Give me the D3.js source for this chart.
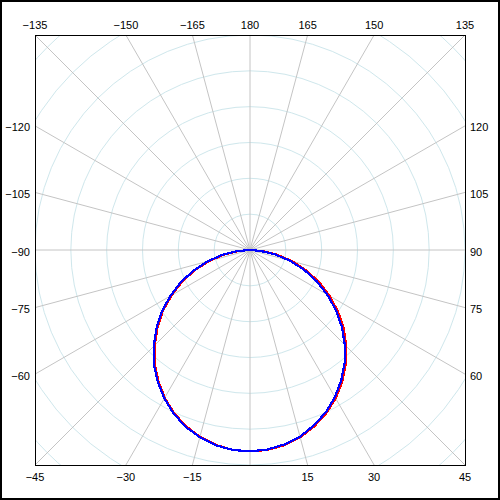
<!DOCTYPE html>
<html>
<head>
<meta charset="utf-8">
<script src="https://cdn.jsdelivr.net/npm/d3@7"></script>
<style>
  html, body { margin: 0; padding: 0; background: #fff; }
  svg { display: block; }
  text { font-family: "Liberation Sans", Arial, sans-serif; font-size: 11px; fill: #000; }
</style>
</head>
<body>
<svg id="chart" width="500" height="500"></svg>
<script>
// ---- data ----
const angles = [-90,-85,-80,-75,-70,-65,-60,-55,-50,-45,-40,-35,-30,-25,-20,-15,-10,-5,0,5,10,15,20,25,30,35,40,45,50,55,60,65,70,75,80,85,90];
const seriesRed = [0,0.33,0.74,1.18,1.63,2.09,2.52,2.97,3.37,3.76,4.14,4.46,4.76,5.02,5.23,5.40,5.52,5.60,5.62,5.60,5.53,5.41,5.24,5.03,4.78,4.49,4.16,3.80,3.42,3.00,2.57,2.13,1.68,1.22,0.77,0.36,0];
const seriesBlue = [0,0.38,0.79,1.23,1.68,2.13,2.57,3.01,3.41,3.80,4.17,4.49,4.78,5.04,5.25,5.41,5.53,5.60,5.62,5.59,5.51,5.39,5.21,5.00,4.74,4.44,4.11,3.74,3.35,2.93,2.49,2.05,1.60,1.15,0.71,0.30,0];
const spokeAngles = [-165,-150,-135,-120,-105,-90,-75,-60,-45,-30,-15,0,15,30,45,60,75,90,105,120,135,150,165,180];
const spokeLabels = ["\u2212165","\u2212150","\u2212135","\u2212120","\u2212105","\u221290","\u221275","\u221260","\u221245","\u221230","\u221215","","15","30","45","60","75","90","105","120","135","150","165","180"];
const ringValues = [1,2,3,4,5,6,7,8];
const radialMax = 6;

// ---- layout ----
const W = 500, H = 500;
const plotLeft = 35, plotTop = 35, size = 430;
const cx = plotLeft + size/2, cy = plotTop + size/2, half = size/2;

const svg = d3.select("#chart");
svg.append("rect").attr("x",1).attr("y",1).attr("width",W-2).attr("height",H-2)
  .attr("fill","#fff").attr("stroke","#000").attr("stroke-width",2);

const r = d3.scaleLinear().domain([0, radialMax]).range([0, half]);
const rad = d => d * Math.PI / 180;

svg.append("defs").append("clipPath").attr("id","plotclip")
  .append("rect").attr("x",plotLeft).attr("y",plotTop).attr("width",size).attr("height",size);

const g = svg.append("g").attr("clip-path","url(#plotclip)");

// rings
g.selectAll("circle.ring").data(ringValues).join("circle")
  .attr("class","ring").attr("cx",cx).attr("cy",cy).attr("r",d => r(d))
  .attr("fill","none").attr("stroke","#cfe7ec").attr("stroke-width",1);

// spoke end points on the frame
function hit(a) {
  const s = Math.sin(rad(a)), c = Math.cos(rad(a));
  const t = half / Math.max(Math.abs(s), Math.abs(c));
  return {x: cx + t*s, y: cy + t*c, s, c};
}

g.selectAll("line.spoke").data(spokeAngles).join("line")
  .attr("class","spoke")
  .attr("x1",cx).attr("y1",cy)
  .attr("x2",d => hit(d).x).attr("y2",d => hit(d).y)
  .attr("stroke","#c4c4c4").attr("stroke-width",1);

// curves
const line = d3.lineRadial()
  .angle((d,i) => Math.PI - rad(angles[i]))
  .radius(d => r(d));

const curves = g.append("g").attr("transform",`translate(${cx},${cy})`);
curves.append("path").datum(seriesRed).attr("d",line)
  .attr("fill","none").attr("stroke","#ff0000").attr("stroke-width",2.2)
  .attr("shape-rendering","crispEdges");
curves.append("path").datum(seriesBlue).attr("d",line)
  .attr("fill","none").attr("stroke","#0000ff").attr("stroke-width",2.2)
  .attr("shape-rendering","crispEdges");

// frame
svg.append("rect").attr("x",plotLeft+0.5).attr("y",plotTop+0.5).attr("width",size).attr("height",size)
  .attr("fill","none").attr("stroke","#000").attr("stroke-width",1);

// labels
const lab = svg.append("g");
spokeAngles.forEach((a,i) => {
  const txt = spokeLabels[i];
  if (!txt) return;
  const p = hit(a);
  const t = lab.append("text").text(txt);
  if (Math.abs(p.c) >= Math.abs(p.s) - 1e-9) {
    t.attr("x", p.x).attr("text-anchor","middle");
    if (p.c < 0) t.attr("y", plotTop - 6);
    else t.attr("y", plotTop + size + 16);
  } else {
    t.attr("y", p.y + 5.5);
    if (p.s < 0) t.attr("x", plotLeft - 5).attr("text-anchor","end");
    else t.attr("x", plotLeft + size + 5).attr("text-anchor","start");
  }
});
</script>
</body>
</html>
